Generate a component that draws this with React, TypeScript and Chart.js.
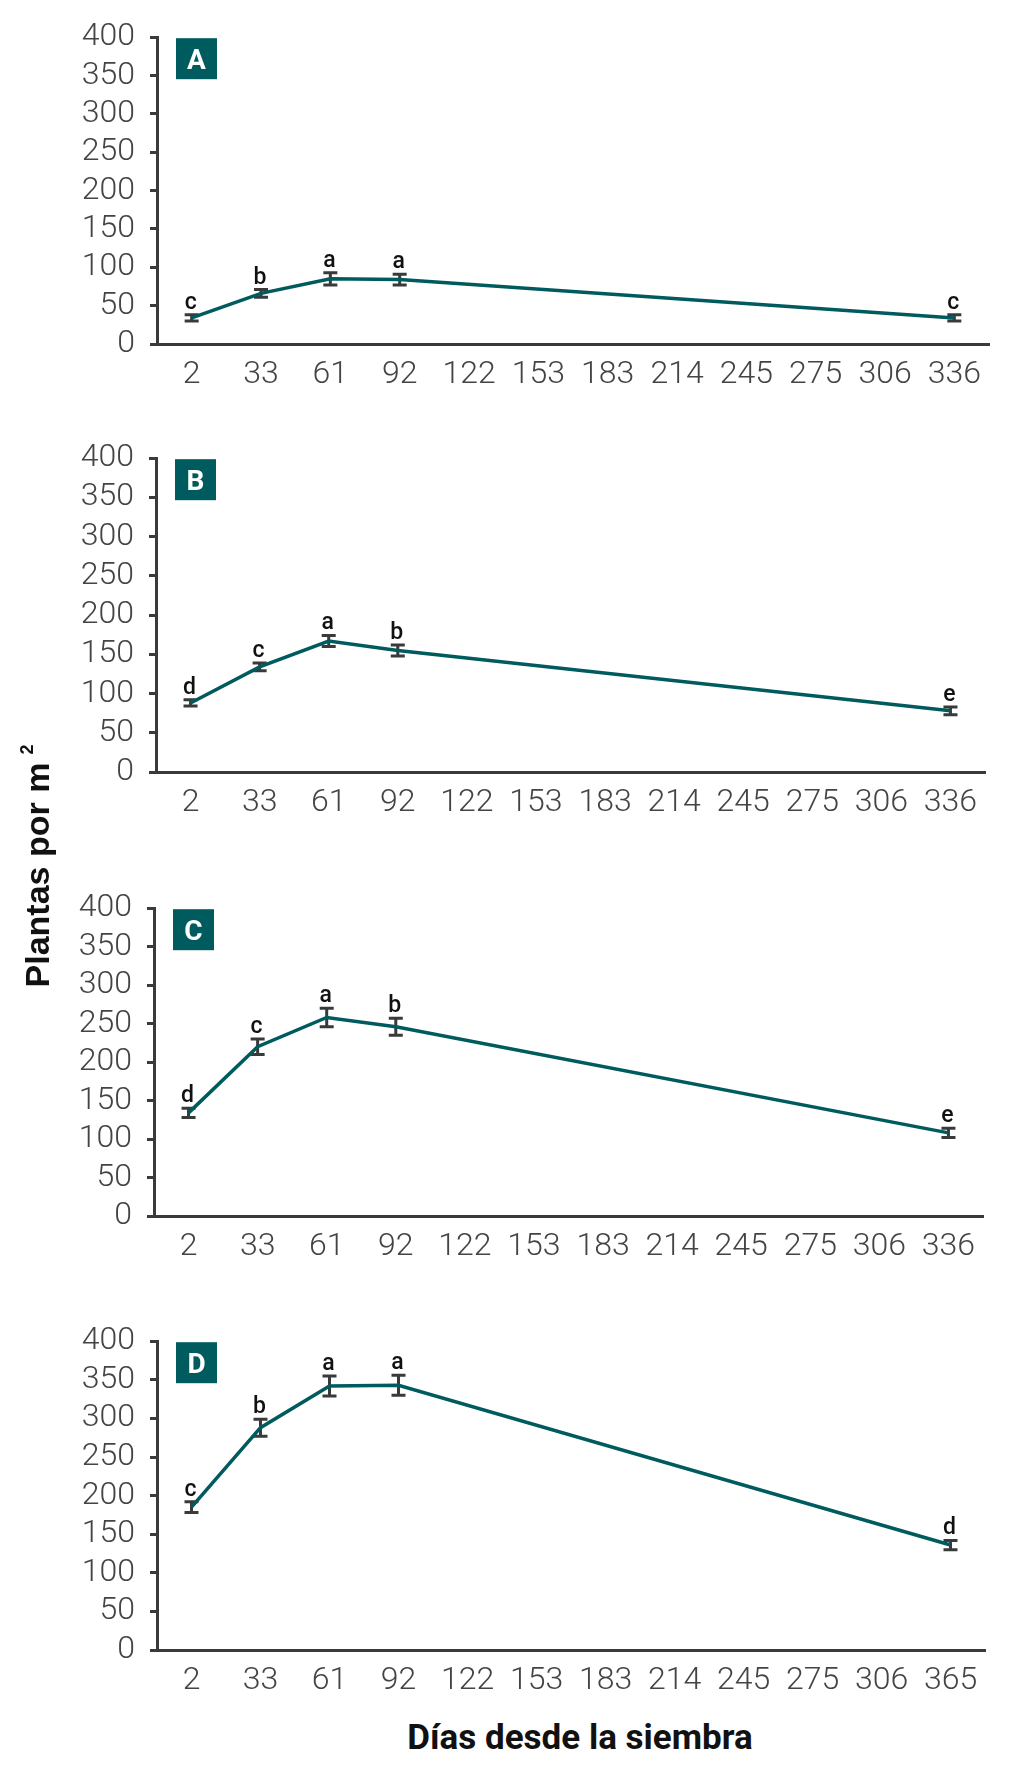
import React, { useEffect, useRef } from 'react';
import { Chart, registerables } from 'chart.js';

Chart.register(...registerables);

// ---------- data ----------
const DAYS_ABC = ['2', '33', '61', '92', '122', '153', '183', '214', '245', '275', '306', '336'];
const DAYS_D = ['2', '33', '61', '92', '122', '153', '183', '214', '245', '275', '306', '365'];

const A_MEANS = [34, 66, 85, 84, null, null, null, null, null, null, null, 34];
const A_ERRORS = [4, 5, 8, 7, null, null, null, null, null, null, null, 4];
const A_GROUPS = ['c', 'b', 'a', 'a', '', '', '', '', '', '', '', 'c'];

const B_MEANS = [88, 134, 167, 155, null, null, null, null, null, null, null, 78];
const B_ERRORS = [4, 5, 7, 7, null, null, null, null, null, null, null, 5];
const B_GROUPS = ['d', 'c', 'a', 'b', '', '', '', '', '', '', '', 'e'];

const C_MEANS = [134, 220, 258, 246, null, null, null, null, null, null, null, 108];
const C_ERRORS = [6, 10, 12, 11, null, null, null, null, null, null, null, 6];
const C_GROUPS = ['d', 'c', 'a', 'b', '', '', '', '', '', '', '', 'e'];

const D_MEANS = [185, 288, 342, 343, null, null, null, null, null, null, null, 136];
const D_ERRORS = [7, 11, 13, 13, null, null, null, null, null, null, null, 6];
const D_GROUPS = ['c', 'b', 'a', 'a', '', '', '', '', '', '', '', 'd'];

const Y_TITLE = 'Plantas por m';
const Y_TITLE_SUP = '2';
const X_TITLE = 'Días desde la siembra';

// ---------- style ----------
const TEAL = '#005b5e';
const AXIS = '#3a3a3a';
const TICK_COLOR = '#444444';
const W = 1016;
const PAD_TOP = 30;
const X_AXIS_H = 62;

type Panel = {
  letter: string;
  labels: string[];
  means: (number | null)[];
  errors: (number | null)[];
  groups: string[];
  top: number;
  bottom: number;
  left: number;
  right: number;
};

const PANELS: Panel[] = [
  { letter: 'A', labels: DAYS_ABC, means: A_MEANS, errors: A_ERRORS, groups: A_GROUPS, top: 33, bottom: 344, left: 157, right: 989 },
  { letter: 'B', labels: DAYS_ABC, means: B_MEANS, errors: B_ERRORS, groups: B_GROUPS, top: 454, bottom: 772, left: 156, right: 985 },
  { letter: 'C', labels: DAYS_ABC, means: C_MEANS, errors: C_ERRORS, groups: C_GROUPS, top: 904, bottom: 1216, left: 154, right: 983 },
  { letter: 'D', labels: DAYS_D, means: D_MEANS, errors: D_ERRORS, groups: D_GROUPS, top: 1337, bottom: 1650, left: 157, right: 985 },
];

function makeChart(canvas: HTMLCanvasElement, p: Panel) {
  const decor = {
    id: 'panelDecor',
    beforeDatasetsDraw(chart: any) {
      const ctx = chart.ctx;
      const xs = chart.scales.x;
      const ys = chart.scales.y;
      ctx.save();
      ctx.strokeStyle = AXIS;
      ctx.lineWidth = 3;
      p.means.forEach((v, i) => {
        const e = p.errors[i];
        if (v == null || e == null) return;
        const x = xs.getPixelForValue(i);
        const yt = ys.getPixelForValue(v + e);
        const yb = ys.getPixelForValue(v - e);
        ctx.beginPath();
        ctx.moveTo(x, yt);
        ctx.lineTo(x, yb);
        ctx.moveTo(x - 7, yt);
        ctx.lineTo(x + 7, yt);
        ctx.moveTo(x - 7, yb);
        ctx.lineTo(x + 7, yb);
        ctx.stroke();
      });
      ctx.restore();
    },
    afterDatasetsDraw(chart: any) {
      const ctx = chart.ctx;
      const xs = chart.scales.x;
      const ys = chart.scales.y;
      ctx.save();
      ctx.fillStyle = '#111111';
      ctx.font = '500 23px Roboto, "Liberation Sans", Arial, sans-serif';
      ctx.textAlign = 'center';
      ctx.textBaseline = 'alphabetic';
      p.means.forEach((v, i) => {
        const e = p.errors[i];
        const g = p.groups[i];
        if (v == null || e == null || !g) return;
        const x = xs.getPixelForValue(i);
        const yt = ys.getPixelForValue(v + e);
        ctx.fillText(g, x - 1, yt - 6);
      });
      // panel letter box
      const ca = chart.chartArea;
      const bx = ca.left + 19;
      const by = ca.top + 1;
      ctx.fillStyle = TEAL;
      ctx.fillRect(bx, by, 41, 41);
      ctx.fillStyle = '#ffffff';
      ctx.font = 'bold 28px Roboto, "Liberation Sans", Arial, sans-serif';
      ctx.textAlign = 'center';
      ctx.textBaseline = 'alphabetic';
      ctx.fillText(p.letter, bx + 20.5, by + 30.5);
      ctx.restore();
    },
  };

  const tickFont = { family: 'Roboto, "Liberation Sans", Arial, sans-serif', size: 32, weight: '300' as any };

  return new Chart(canvas, {
    type: 'line',
    data: {
      labels: p.labels,
      datasets: [
        {
          data: p.means as any,
          borderColor: TEAL,
          backgroundColor: TEAL,
          borderWidth: 3.5,
          pointRadius: 0,
          pointHoverRadius: 0,
          tension: 0,
          spanGaps: true,
          fill: false,
        },
      ],
    },
    options: {
      animation: false,
      responsive: false,
      events: [],
      layout: { padding: { top: PAD_TOP, right: W - p.right, left: 0, bottom: 0 } },
      plugins: { legend: { display: false }, tooltip: { enabled: false } },
      scales: {
        x: {
          type: 'category',
          offset: true,
          grid: { display: false, drawTicks: false, drawOnChartArea: false },
          border: { display: true, color: AXIS, width: 3 },
          ticks: { font: tickFont, color: TICK_COLOR, padding: 12, maxRotation: 0, minRotation: 0, autoSkip: false },
          afterFit(s: any) {
            s.height = X_AXIS_H;
          },
        },
        y: {
          min: 0,
          max: 400,
          ticks: { stepSize: 50, autoSkip: false, font: tickFont, color: TICK_COLOR, padding: 15 },
          grid: { drawOnChartArea: false, drawTicks: true, tickLength: 7, color: AXIS, lineWidth: 3 },
          border: { display: true, color: AXIS, width: 3 },
          afterFit(s: any) {
            s.width = p.left;
          },
        },
      },
    } as any,
    plugins: [decor],
  });
}

function PanelChart({ p }: { p: Panel }) {
  const ref = useRef<HTMLCanvasElement | null>(null);
  const h = p.bottom - p.top + PAD_TOP + X_AXIS_H;
  useEffect(() => {
    if (!ref.current) return;
    const c = makeChart(ref.current, p);
    return () => c.destroy();
  }, [p]);
  return (
    <canvas
      ref={ref}
      width={W}
      height={h}
      style={{ position: 'absolute', left: 0, top: p.top - PAD_TOP, width: W, height: h, display: 'block' }}
    />
  );
}

export default function App() {
  return (
    <div style={{ position: 'absolute', left: 0, top: 0, width: W, height: 1784, background: '#ffffff', overflow: 'hidden' }}>
      {PANELS.map((p) => (
        <PanelChart key={p.letter} p={p} />
      ))}
      <div
        style={{
          position: 'absolute',
          left: 37 - 200,
          top: 866 - 17,
          width: 400,
          height: 34,
          lineHeight: '34px',
          textAlign: 'center',
          transform: 'rotate(-90deg)',
          transformOrigin: 'center center',
          fontFamily: '"Liberation Sans", Arial, sans-serif',
          fontWeight: 700,
          fontSize: 34,
          color: '#111111',
          whiteSpace: 'nowrap',
        }}
      >
        {Y_TITLE}
        <span style={{ fontSize: 18, position: 'relative', top: -16, marginLeft: 8 }}>{Y_TITLE_SUP}</span>
      </div>
      <div
        style={{
          position: 'absolute',
          left: 380,
          top: 1720,
          width: 400,
          height: 36,
          lineHeight: '36px',
          textAlign: 'center',
          fontFamily: 'Roboto, "Liberation Sans", Arial, sans-serif',
          fontWeight: 700,
          fontSize: 35,
          color: '#111111',
          whiteSpace: 'nowrap',
        }}
      >
        {X_TITLE}
      </div>
    </div>
  );
}
